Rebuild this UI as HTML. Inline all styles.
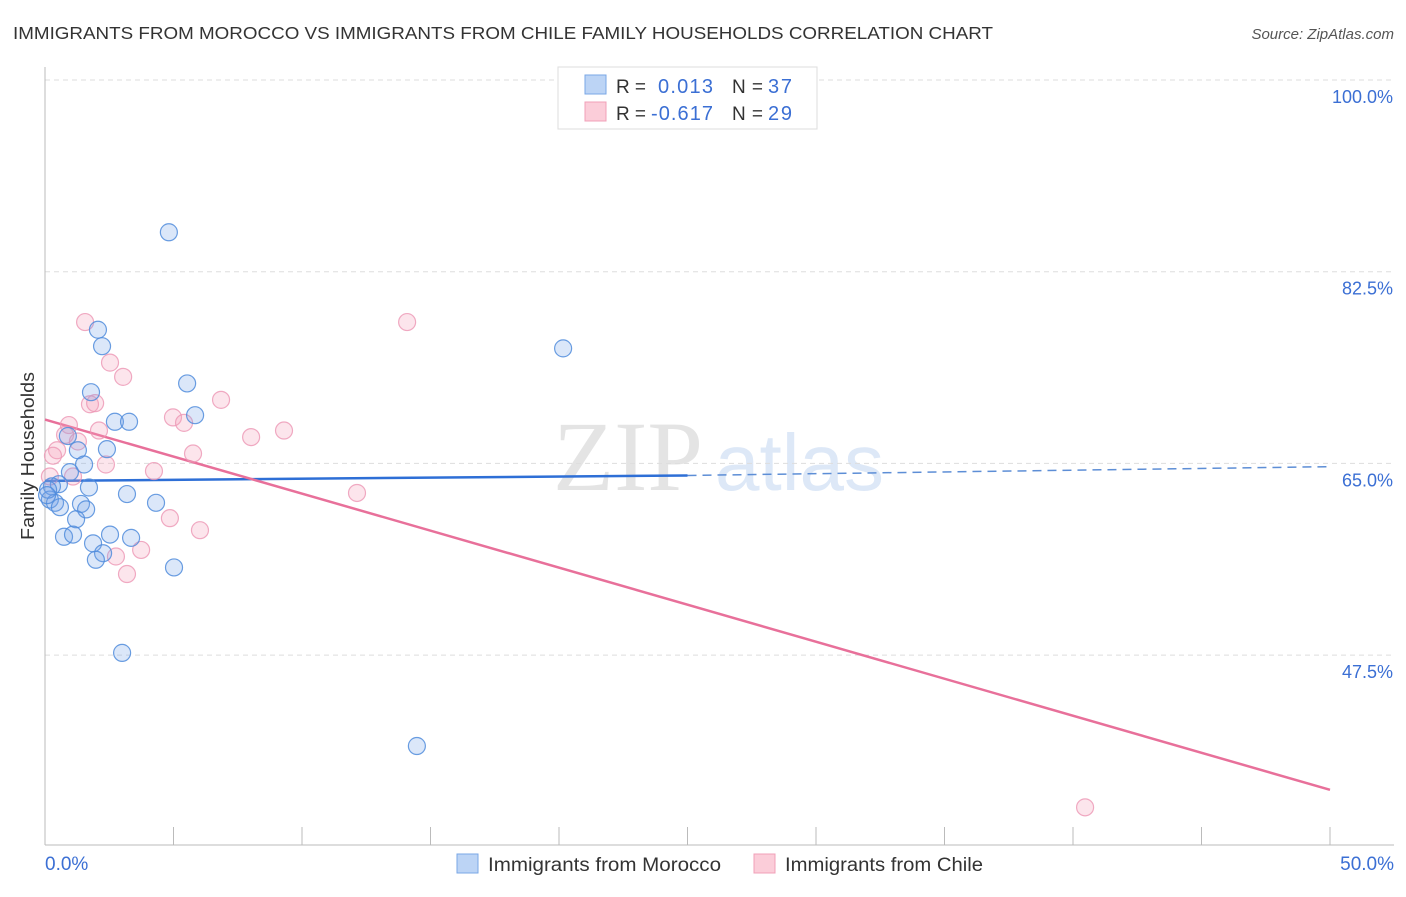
<!DOCTYPE html>
<html><head><meta charset="utf-8"><style>
body{margin:0;background:#fff;font-family:"Liberation Sans",sans-serif}
svg text{font-family:"Liberation Sans",sans-serif}
</style></head><body>
<svg id="chart" width="1406" height="892" xmlns="http://www.w3.org/2000/svg">
<text x="13" y="39" font-size="17.5" fill="#333" textLength="980" lengthAdjust="spacingAndGlyphs">IMMIGRANTS FROM MOROCCO VS IMMIGRANTS FROM CHILE FAMILY HOUSEHOLDS CORRELATION CHART</text>
<text x="1394" y="39" font-size="15" fill="#555" font-style="italic" text-anchor="end">Source: ZipAtlas.com</text>
<g>
<text x="553" y="490" font-size="100" fill="#e4e4e4" style="font-family:'Liberation Serif',serif">ZIP</text>
<text x="715" y="490" font-size="80" fill="#dde8f7">atlas</text>
</g>
<g id="grid"></g>
<g id="axes"></g>
<g id="trends"></g>
<g id="points"></g>
<text transform="translate(34,456) rotate(-90)" font-size="18" fill="#333" text-anchor="middle" textLength="168" lengthAdjust="spacingAndGlyphs">Family Households</text>
<g>
<rect x="558" y="67" width="259" height="62" fill="#fff" stroke="#ddd"/>
<rect x="585" y="75" width="21" height="19" fill="#bcd4f5" stroke="#7aa7e6"/>
<rect x="585" y="102" width="21" height="19" fill="#fbcdd9" stroke="#f0a0b8"/>
<text x="616" y="93" font-size="19" fill="#333" textLength="30">R =</text>
<text x="658" y="93" font-size="20" fill="#3b6fd4" textLength="55">0.013</text>
<text x="732" y="93" font-size="19" fill="#333" textLength="31">N =</text>
<text x="768" y="93" font-size="20" fill="#3b6fd4" textLength="24">37</text>
<text x="616" y="120" font-size="19" fill="#333" textLength="30">R =</text>
<text x="651" y="120" font-size="20" fill="#3b6fd4" textLength="62">-0.617</text>
<text x="732" y="120" font-size="19" fill="#333" textLength="31">N =</text>
<text x="768" y="120" font-size="20" fill="#3b6fd4" textLength="24">29</text>
</g>
<g>
<rect x="457" y="854" width="21" height="19" fill="#bcd4f5" stroke="#7aa7e6"/>
<text x="488" y="871" font-size="19" fill="#333" textLength="233" lengthAdjust="spacingAndGlyphs">Immigrants from Morocco</text>
<rect x="754" y="854" width="21" height="19" fill="#fbcdd9" stroke="#f0a0b8"/>
<text x="785" y="871" font-size="19" fill="#333" textLength="198" lengthAdjust="spacingAndGlyphs">Immigrants from Chile</text>
</g>
</svg>
<script>
const yTicks=[100,82.5,65,47.5];
const yTickLabels=["100.0%","82.5%","65.0%","47.5%"];
const xTicks=[0,5,10,15,20,25,30,35,40,45,50];
const xEndLabels=["0.0%","50.0%"];
const moroccoX=[4.82,2.06,2.22,20.16,5.53,1.79,5.84,2.72,3.27,0.89,1.28,2.41,1.52,0.97,0.54,0.27,1.71,3.19,0.19,0.39,0.58,1.40,1.60,4.32,1.21,2.53,0.74,1.09,3.35,1.87,2.26,1.98,5.02,3.00,14.47,0.12,0.08];
const moroccoY=[86.1,77.2,75.7,75.5,72.3,71.5,69.4,68.8,68.8,67.5,66.2,66.3,64.9,64.2,63.1,62.9,62.8,62.2,61.7,61.4,61.0,61.3,60.8,61.4,59.9,58.5,58.3,58.5,58.2,57.7,56.8,56.2,55.5,47.7,39.2,62.6,62.1];
const chileX=[1.56,14.09,2.53,3.04,6.85,1.75,1.95,4.98,5.41,0.93,0.78,9.30,8.02,1.28,2.10,0.47,0.31,5.76,2.37,1.09,4.24,0.19,12.14,4.86,6.03,3.74,2.76,3.19,40.47];
const chileY=[77.9,77.9,74.2,72.9,70.8,70.4,70.5,69.2,68.7,68.5,67.6,68.0,67.4,67.0,68.0,66.2,65.7,65.9,64.9,63.8,64.3,63.8,62.3,60.0,58.9,57.1,56.5,54.9,33.6];
const moroccoTrend=[63.4,63.9,64.7];
const chileTrend=[69.0,35.2];
const NS="http://www.w3.org/2000/svg";
const xs=v=>45+v*25.7;
const ys=v=>80+(100-v)*10.954;
function mk(p,t,a){const e=document.createElementNS(NS,t);for(const k in a)e.setAttribute(k,a[k]);p.appendChild(e);return e;}
const grid=document.getElementById('grid'),axes=document.getElementById('axes'),tr=document.getElementById('trends'),pts=document.getElementById('points');
yTicks.forEach((v,i)=>{
 const l=mk(grid,'line',{x1:45,x2:1394,y1:ys(v),y2:ys(v),stroke:'#ddd','stroke-dasharray':'5,4'});
 
 
 const t=mk(axes,'text',{x:1393,y:ys(v)+23,'font-size':18,fill:'#3b6fd4','text-anchor':'end'});
 t.textContent=yTickLabels[i];
 
 
});
const ya=mk(axes,'line',{x1:45,x2:45,y1:67,y2:845,stroke:'#bbb'});


const xa=mk(axes,'line',{x1:45,x2:1394,y1:845,y2:845,stroke:'#bbb'});


xTicks.forEach(v=>{const t=mk(axes,'line',{x1:xs(v),x2:xs(v),y1:827,y2:845,stroke:'#bbb'});
 
 });
[[0,'start',45],[50,'end',1394]].forEach((d,i)=>{const t=mk(axes,'text',{x:d[2],y:870,'font-size':19,fill:'#3b6fd4','text-anchor':d[1]});t.textContent=xEndLabels[i];
 
 });
function dots(X,Y,fill,stroke,name){X.forEach((x,i)=>{const c=mk(pts,'circle',{cx:xs(x),cy:ys(Y[i]),r:8.5,fill:fill,stroke:stroke,'stroke-width':1.2});
 
 });}
dots(chileX,chileY,'rgba(244,160,188,0.28)','rgba(236,150,180,0.8)','point-chile');
dots(moroccoX,moroccoY,'rgba(110,160,230,0.25)','rgba(80,140,220,0.85)','point-morocco');
let l1=mk(tr,'line',{x1:xs(0),y1:ys(moroccoTrend[0]),x2:xs(25),y2:ys(moroccoTrend[1]),stroke:'#2e6fd6','stroke-width':2.5});


let l2=mk(tr,'line',{x1:xs(25),y1:ys(moroccoTrend[1]),x2:xs(50),y2:ys(moroccoTrend[2]),stroke:'#5d8ed6','stroke-width':1.5,'stroke-dasharray':'9,6'});


let l3=mk(tr,'line',{x1:xs(0),y1:ys(chileTrend[0]),x2:xs(50),y2:ys(chileTrend[1]),stroke:'#e8709a','stroke-width':2.5});


</script>
</body></html>
